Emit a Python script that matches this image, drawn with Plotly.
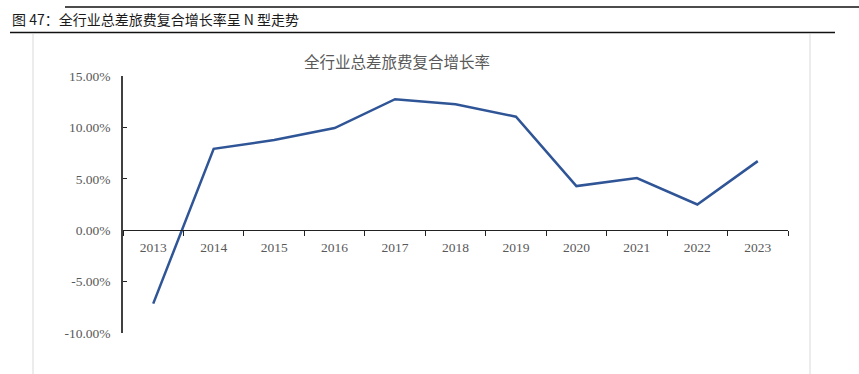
import plotly.graph_objects as go

years = ["2013", "2014", "2015", "2016", "2017", "2018", "2019", "2020", "2021", "2022", "2023"]
growth = [-0.0714, 0.0792, 0.0877, 0.0994, 0.1274, 0.1225, 0.1104, 0.0429, 0.0507, 0.0250, 0.0672]
y_tickvals = [-0.10, -0.05, 0.0, 0.05, 0.10, 0.15]
y_ticktext = ["-10.00%", "-5.00%", "0.00%", "5.00%", "10.00%", "15.00%"]

header = "图 47：全行业总差旅费复合增长率呈 N 型走势"
chart_title = "全行业总差旅费复合增长率"

W, H = 859, 374
L, R, T, B = 123, 71, 76, 41
pw, ph = W - L - R, H - T - B

def px_x(x):
    return (x - L) / pw

def px_y(y):
    return (H - B - y) / ph

fig = go.Figure()
fig.add_trace(go.Scatter(
    x=years, y=growth, mode="lines",
    line=dict(color="#2F5597", width=2.5),
    hoverinfo="x+y", showlegend=False,
))

ymin, ymax = -0.10, 0.15
fig.update_layout(
    width=W, height=H,
    margin=dict(l=L, r=R, t=T, b=B, pad=0),
    paper_bgcolor="white", plot_bgcolor="white",
    xaxis=dict(
        type="category", anchor="free", position=(0 - ymin) / (ymax - ymin),
        showline=True, linecolor="#222222", linewidth=1,
        ticks="outside", ticklen=5, tickcolor="#222222", tickwidth=1,
        tickson="boundaries", showgrid=False, zeroline=False,
        ticklabelstandoff=5,
        tickfont=dict(family="Liberation Serif", size=13.5, color="#595959"),
        range=[-0.5, 10.5],
    ),
    yaxis=dict(
        range=[ymin, ymax], tickvals=y_tickvals, ticktext=y_ticktext,
        showline=True, linecolor="#404040", linewidth=1.5,
        ticks="inside", ticklen=4, tickcolor="#222222", tickwidth=1,
        ticklabelstandoff=8,
        showgrid=False, zeroline=False,
        tickfont=dict(family="Liberation Serif", size=13.5, color="#595959"),
    ),
    shapes=[
        dict(type="line", xref="paper", yref="paper",
             x0=px_x(65), x1=px_x(859), y0=px_y(7), y1=px_y(7),
             line=dict(color="#111111", width=1.3)),
        dict(type="line", xref="paper", yref="paper",
             x0=px_x(10), x1=px_x(835), y0=px_y(32.5), y1=px_y(32.5),
             line=dict(color="#111111", width=1.5)),
        dict(type="line", xref="paper", yref="paper",
             x0=px_x(33), x1=px_x(33), y0=px_y(34), y1=px_y(374),
             line=dict(color="#D9D9D9", width=1)),
        dict(type="line", xref="paper", yref="paper",
             x0=px_x(810), x1=px_x(810), y0=px_y(34), y1=px_y(374),
             line=dict(color="#D9D9D9", width=1)),
    ],
    annotations=[
        dict(text=header, xref="paper", yref="paper",
             x=px_x(10), y=px_y(19), xanchor="left", yanchor="middle",
             showarrow=False,
             font=dict(family="Noto Sans CJK SC", size=14, color="#1a1a1a")),
        dict(text=chart_title, xref="paper", yref="paper",
             x=px_x(397), y=px_y(61), xanchor="center", yanchor="middle",
             showarrow=False,
             font=dict(family="Noto Sans CJK SC", size=15.5, color="#595959")),
    ],
)

fig.write_html("out.html", config={"displayModeBar": False},
               post_script="document.body.style.margin='0';document.body.style.overflow='hidden';")
